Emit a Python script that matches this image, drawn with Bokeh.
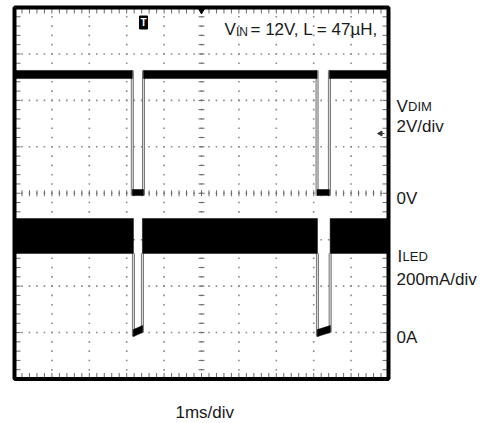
import numpy as np
from bokeh.plotting import figure
from bokeh.models import Range1d, Label
from bokeh.embed import file_html
from bokeh.resources import INLINE
from bokeh.core.properties import value

# ---- scope settings ----
x_divs = 10          # 1 ms/div
y_divs = 8
vdim_scale = 2.0     # V/div
iled_scale = 200.0   # mA/div
vdim_zero_div = 4    # 0V marker (divisions from bottom)
iled_zero_div = 1    # 0A marker

# ---- VDIM trace (V) ----
vdim_fall = [3.15, 8.09]     # ms
vdim_rise = [3.45, 8.42]     # ms
vdim_high = [4.94, 5.29]     # band min/max while high
vdim_low = [-0.10, 0.16]     # band min/max while low

# ---- ILED trace (mA) ----
iled_fall = [3.18, 8.10]
iled_rise = [3.42, 8.44]
iled_high = [341, 491]           # ripple band while on
iled_low_start = [-17, 13]       # low band at start of off time
iled_low_end = [0, 30]           # low band at end of off time

# ---- text ----
cond_main = "= 12V, L = 47\u00b5H,"
ch1_scale = "2V/div"
ch2_scale = "200mA/div"
time_scale = "1ms/div"

W, H = 489, 423
SL, SR, ST, SB = 14, 388, 7, 378.5     # screen box of the graticule (px)
pxx = (SR - SL) / x_divs
pxy = (SB - ST) / y_divs
FONT = "Liberation Sans"
TXT = "#1a1a1a"

x0 = -SL / pxx
x1 = x_divs + (W - SR) / pxx
y1 = y_divs + ST / pxy
y0 = -(H - SB) / pxy

p = figure(width=W, height=H, x_range=Range1d(x0, x1), y_range=Range1d(y0, y1),
           x_axis_type=None, y_axis_type=None, toolbar_location=None,
           output_backend="svg", min_border=0)
p.outline_line_color = None
p.background_fill_color = "white"
p.border_fill_color = "white"
p.xgrid.visible = False
p.ygrid.visible = False

p.extra_y_ranges = {
    "vdim": Range1d((y0 - vdim_zero_div) * vdim_scale, (y1 - vdim_zero_div) * vdim_scale),
    "iled": Range1d((y0 - iled_zero_div) * iled_scale, (y1 - iled_zero_div) * iled_scale),
}

# graticule dots
major_x = np.arange(1, x_divs)
major_y = np.arange(1, y_divs)
minor_x = np.arange(0, x_divs + 0.001, 0.2)
minor_y = np.arange(0, y_divs + 0.001, 0.2)
gx1, gy1 = np.meshgrid(major_x, minor_y)
gx2, gy2 = np.meshgrid(minor_x, major_y)
p.scatter(x=np.concatenate([gx1.ravel(), gx2.ravel()]),
          y=np.concatenate([gy1.ravel(), gy2.ravel()]),
          marker="square", size=1.6, color="#8a8a8a", line_width=0)

cx, cy = x_divs / 2, y_divs / 2
tx, ty = 3 / pxx, 3 / pxy
ex, ey = 6 / pxx, 6 / pxy
tick_col = "#6a6a6a"
p.segment(x0=minor_x, y0=cy - ty, x1=minor_x, y1=cy + ty, line_color=tick_col, line_width=1)
p.segment(x0=cx - tx, y0=minor_y, x1=cx + tx, y1=minor_y, line_color=tick_col, line_width=1)
p.segment(x0=minor_x, y0=y_divs, x1=minor_x, y1=y_divs - ey, line_color=tick_col, line_width=1)
p.segment(x0=minor_x, y0=0, x1=minor_x, y1=ey, line_color=tick_col, line_width=1)
p.segment(x0=0, y0=minor_y, x1=ex, y1=minor_y, line_color=tick_col, line_width=1)
p.segment(x0=x_divs, y0=minor_y, x1=x_divs - ex, y1=minor_y, line_color=tick_col, line_width=1)

# ---- VDIM ----
n = len(vdim_fall)
edges_v = vdim_fall + vdim_rise
p.segment(x0=edges_v, y0=[vdim_low[0]] * (2 * n), x1=edges_v, y1=[vdim_high[1]] * (2 * n),
          y_range_name="vdim", line_color="#6e6e6e", line_width=3)
p.segment(x0=edges_v, y0=[vdim_low[0]] * (2 * n), x1=edges_v, y1=[vdim_high[1]] * (2 * n),
          y_range_name="vdim", line_color="#d6d6d6", line_width=1.2)
p.quad(left=[0] + vdim_rise, right=vdim_fall + [x_divs],
       bottom=vdim_high[0], top=vdim_high[1], y_range_name="vdim",
       fill_color="black", line_color="black", line_width=0.5)
p.quad(left=vdim_fall, right=vdim_rise, bottom=vdim_low[0], top=vdim_low[1],
       y_range_name="vdim", fill_color="black", line_color="black", line_width=0.5)

# ---- ILED ----
m = len(iled_fall)
p.segment(x0=iled_fall, y0=[iled_low_start[0]] * m, x1=iled_fall, y1=[iled_high[0]] * m,
          y_range_name="iled", line_color="#6e6e6e", line_width=3)
p.segment(x0=iled_rise, y0=[iled_low_end[0]] * m, x1=iled_rise, y1=[iled_high[0]] * m,
          y_range_name="iled", line_color="#6e6e6e", line_width=3)
p.segment(x0=iled_fall + iled_rise, y0=[iled_low_start[1]] * m + [iled_low_end[1]] * m,
          x1=iled_fall + iled_rise, y1=[iled_high[0]] * (2 * m),
          y_range_name="iled", line_color="#d6d6d6", line_width=1.2)
p.quad(left=[0] + iled_rise, right=iled_fall + [x_divs],
       bottom=iled_high[0], top=iled_high[1], y_range_name="iled",
       fill_color="black", line_color="black", line_width=0.5)
p.patches(xs=[[f, r, r, f] for f, r in zip(iled_fall, iled_rise)],
          ys=[[iled_low_start[0], iled_low_end[0], iled_low_end[1], iled_low_start[1]]] * m,
          y_range_name="iled", fill_color="black", line_color="black", line_width=0.5)

# ---- graticule border ----
p.quad(left=[0], right=[x_divs], bottom=[0], top=[y_divs], fill_color=None,
       line_color="black", line_width=4)

# ---- scope markers ----
def at(px_, py_):
    return (px_ - SL) / pxx, y_divs - (py_ - ST) / pxy

tx_, ty_ = at(144, 22)
p.rect(x=[vdim_rise[0]], y=[ty_], width=8, height=13, width_units="screen",
       height_units="screen", fill_color="black", line_color="black")
p.text(x=[vdim_rise[0]], y=[ty_], text=["T"], text_color="white", text_font=value("Liberation Sans"),
       text_font_style="bold", text_font_size="10px", text_align="center", text_baseline="middle")
p.scatter(x=[cx], y=[y_divs - 3 / pxy], marker="inverted_triangle", size=6, color="black")
ax_, ay_ = at(380, 133)
p.scatter(x=[ax_], y=[ay_], marker="triangle", angle=np.pi / 2, size=5, color="#333333")
p.segment(x0=[ax_], y0=[ay_], x1=[ax_ + 4 / pxx], y1=[ay_], line_color="#333333", line_width=1)

DY = -6
def lab(txt, px_, py_, size):
    x, y = at(px_, py_ + DY)
    p.add_layout(Label(x=x, y=y, text=txt, text_font=FONT, text_font_size="%dpx" % size,
                       text_color=TXT, text_align="left", text_baseline="alphabetic"))

lab("V", 224, 35, 17)
lab("IN", 235.5, 37, 12)
lab(cond_main, 250, 35, 17)
lab("V", 396, 112, 17)
lab("DIM", 407.5, 112, 13)
lab(ch1_scale, 396, 132, 17)
lab("0V", 396, 204, 17)
lab("I", 397, 262, 17)
lab("LED", 402, 262, 13)
lab(ch2_scale, 396, 285, 17)
lab("0A", 396, 343, 17)
lab(time_scale, 175, 418, 17)

open("out.html", "w").write(file_html(p, INLINE))
